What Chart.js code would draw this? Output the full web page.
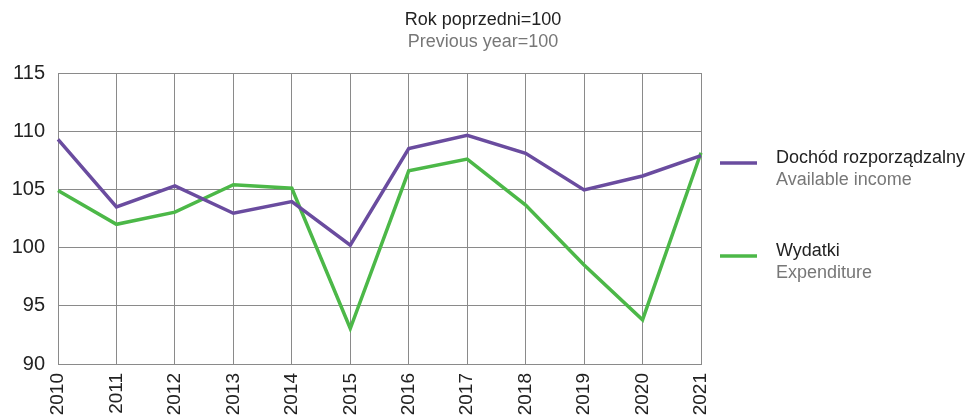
<!DOCTYPE html>
<html>
<head>
<meta charset="utf-8">
<script src="https://cdn.jsdelivr.net/npm/chart.js@4"></script>
<style>
    html, body { margin: 0; padding: 0; background: #fff; }
    #wrap { position: relative; width: 974px; height: 416px; }
</style>
</head>
<body>
<div id="wrap"><canvas id="chart" width="974" height="416"></canvas></div>
<script>
const years = ['2010', '2011', '2012', '2013', '2014', '2015', '2016', '2017', '2018', '2019', '2020', '2021'];
const income = [109.3, 103.5, 105.3, 102.95, 103.95, 100.2, 108.5, 109.65, 108.1, 104.95, 106.15, 107.9];
const expenditure = [104.9, 102.0, 103.05, 105.4, 105.1, 93.05, 106.6, 107.6, 103.65, 98.5, 93.8, 108.15];
const titleLines = ['Rok poprzedni=100', 'Previous year=100'];
const legendItems = [
    { pl: 'Dochód rozporządzalny', en: 'Available income', color: '#6a4c9f' },
    { pl: 'Wydatki', en: 'Expenditure', color: '#4cb848' },
];

const FONT = '"Liberation Sans", Arial, sans-serif';

// title + two-language legend drawn by hand
const extras = {
    id: 'extras',
    afterDraw(chart) {
        const ctx = chart.ctx;
        ctx.save();
        ctx.textAlign = 'center';
        ctx.textBaseline = 'middle';
        ctx.font = '18px ' + FONT;
        ctx.fillStyle = '#222';
        ctx.fillText(titleLines[0], 483, 20);
        ctx.fillStyle = '#777';
        ctx.fillText(titleLines[1], 483, 42);

        const rows = [163, 256];
        legendItems.forEach((item, i) => {
            const y = rows[i];
            ctx.strokeStyle = item.color;
            ctx.lineWidth = 3.5;
            ctx.beginPath();
            ctx.moveTo(720, y);
            ctx.lineTo(757, y);
            ctx.stroke();
            ctx.textAlign = 'left';
            ctx.fillStyle = '#222';
            ctx.fillText(item.pl, 776, y - 5);
            ctx.fillStyle = '#777';
            ctx.fillText(item.en, 776, y + 17);
        });
        ctx.restore();
    },
};

new Chart(document.getElementById('chart'), {
    type: 'line',
    data: {
        labels: years,
        datasets: [
            {
                label: legendItems[0].pl,
                data: income,
                borderColor: legendItems[0].color,
                borderWidth: 3.5,
                pointRadius: 0,
                tension: 0,
            },
            {
                label: legendItems[1].pl,
                data: expenditure,
                borderColor: legendItems[1].color,
                borderWidth: 3.5,
                pointRadius: 0,
                tension: 0,
            },
        ],
    },
    options: {
        responsive: false,
        animation: false,
        layout: { padding: { top: 73, right: 273, bottom: 0, left: 0 } },
        plugins: {
            legend: { display: false },
            tooltip: { enabled: false },
        },
        scales: {
            x: {
                offset: false,
                grid: { color: '#8a8a8a', lineWidth: 1, drawTicks: false },
                border: { color: '#8a8a8a' },
                ticks: {
                    color: '#222',
                    font: { family: FONT, size: 19 },
                    maxRotation: 90,
                    minRotation: 90,
                    padding: 9,
                    autoSkip: false,
                },
                afterFit(scale) { scale.height = 52; },
            },
            y: {
                min: 90,
                max: 115,
                grid: { color: '#8a8a8a', lineWidth: 1, drawTicks: false },
                border: { color: '#8a8a8a' },
                ticks: {
                    stepSize: 5,
                    color: '#222',
                    font: { family: FONT, size: 20 },
                    padding: 13,
                },
                afterFit(scale) { scale.width = 58; },
            },
        },
    },
    plugins: [extras],
});
</script>
</body>
</html>
